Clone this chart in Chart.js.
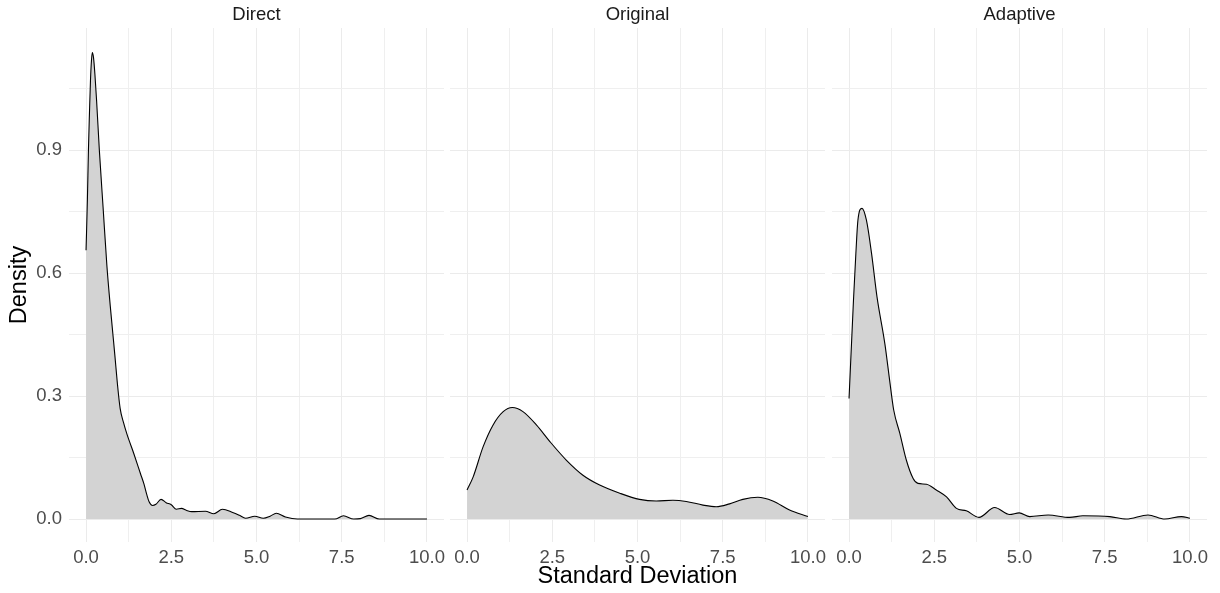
<!DOCTYPE html>
<html>
<head>
<meta charset="utf-8">
<script src="https://cdn.jsdelivr.net/npm/chart.js@4/dist/chart.umd.min.js"></script>
<style>
body { margin: 0; background: #fff; }
#chartSet { position: relative; width: 1220px; height: 593px; }
#chartSet canvas { position: absolute; top: 0; }
</style>
</head>
<body>
<div id="chartSet"></div>
<script>
const panelNames = ["Direct", "Original", "Adaptive"];

const xTicks = [0, 2.5, 5, 7.5, 10];
const xLabels = ["0.0", "2.5", "5.0", "7.5", "10.0"];
const xMinor = [1.25, 3.75, 6.25, 8.75];
const yTicks = [0, 0.3, 0.6, 0.9];
const yLabels = ["0.0", "0.3", "0.6", "0.9"];
const yMinor = [0.15, 0.45, 0.75, 1.05];

// density curves
const directX = [0, 0.04, 0.07, 0.1, 0.13, 0.16, 0.185, 0.22, 0.26, 0.31, 0.39, 0.5, 0.61, 0.71, 0.8, 0.85, 0.92, 1.0, 1.1, 1.2, 1.4, 1.6, 1.7, 1.78, 1.85, 1.95, 2.05, 2.2, 2.35, 2.5, 2.65, 2.8, 2.95, 3.1, 3.5, 3.75, 4.0, 4.3, 4.5, 4.68, 4.95, 5.2, 5.4, 5.58, 5.85, 6.2, 7.3, 7.55, 7.85, 8.05, 8.3, 8.6, 10];
const directY = [0.656, 0.78, 0.9, 0.99, 1.07, 1.12, 1.138, 1.125, 1.085, 1.02, 0.9, 0.76, 0.62, 0.52, 0.44, 0.395, 0.33, 0.27, 0.235, 0.207, 0.16, 0.11, 0.085, 0.06, 0.042, 0.033, 0.036, 0.048, 0.04, 0.035, 0.024, 0.026, 0.021, 0.018, 0.019, 0.013, 0.024, 0.016, 0.009, 0.002, 0.007, 0.002, 0.007, 0.014, 0.005, 0, 0, 0.008, 0, 0.001, 0.009, 0, 0];

const originalX = [0, 0.18, 0.47, 0.76, 1.06, 1.33, 1.64, 2.04, 2.43, 2.91, 3.4, 3.89, 4.48, 5.06, 5.55, 6.04, 6.43, 6.92, 7.31, 7.7, 8.09, 8.53, 8.97, 9.46, 10];
const originalY = [0.071, 0.103, 0.176, 0.229, 0.262, 0.272, 0.262, 0.229, 0.189, 0.144, 0.107, 0.083, 0.063, 0.048, 0.044, 0.046, 0.043, 0.034, 0.030, 0.037, 0.048, 0.053, 0.044, 0.022, 0.006];

const adaptiveX = [0, 0.13, 0.2, 0.26, 0.38, 0.51, 0.66, 0.82, 1.05, 1.19, 1.31, 1.49, 1.68, 1.88, 2.02, 2.27, 2.56, 2.86, 3.15, 3.44, 3.81, 4.27, 4.71, 4.99, 5.3, 5.84, 6.47, 6.86, 7.65, 8.13, 8.77, 9.26, 9.75, 10];
const adaptiveY = [0.294, 0.534, 0.648, 0.729, 0.758, 0.729, 0.648, 0.542, 0.428, 0.339, 0.266, 0.209, 0.144, 0.099, 0.087, 0.085, 0.071, 0.054, 0.026, 0.020, 0.004, 0.028, 0.011, 0.015, 0.006, 0.010, 0.004, 0.008, 0.006, 0, 0.010, 0, 0.006, 0.002];

const fam = "'Liberation Sans', Arial, Helvetica, sans-serif";

function gridOpts(major) {
    return {
        drawTicks: false,
        color: ctx => major.includes(ctx.tick.value) ? '#ebebeb' : '#efefef',
        lineWidth: 1
    };
}

function makeChart(idx, xs, ys, left, width, padL, padR) {
    const ct = document.createElement("canvas");
    ct.width = width;
    ct.height = 593;
    ct.style.left = left + "px";
    document.getElementById("chartSet").appendChild(ct);

    new Chart(ct, {
    type: 'line',
    data: {
        datasets: [{
        data: xs.map((x, k) => ({ x: x, y: ys[k] })),
        borderColor: '#000',
        borderWidth: 1.1,
        backgroundColor: '#d3d3d3',
        fill: 'origin',
        pointRadius: 0,
        cubicInterpolationMode: 'monotone'
        }]
    },
    options: {
        responsive: false,
        animation: false,
        devicePixelRatio: 1,
        layout: { padding: { left: padL, right: padR, top: 0, bottom: 0 } },
        plugins: {
        legend: { display: false },
        tooltip: { enabled: false },
        title: {
            display: true,
            text: panelNames[idx],
            fullSize: false,
            color: '#1a1a1a',
            font: { family: fam, size: 18.5, weight: 'normal' },
            padding: { top: 4, bottom: 1.8 }
        }
        },
        scales: {
        x: {
            type: 'linear',
            min: -0.5,
            max: 10.5,
            afterBuildTicks: s => { s.ticks = xTicks.concat(xMinor).sort((a, b) => a - b).map(v => ({ value: v })); },
            afterFit: s => { s.height = 51; },
            grid: gridOpts(xTicks),
            border: { display: false },
            ticks: {
            autoSkip: false,
            maxRotation: 0,
            padding: 5,
            color: '#4d4d4d',
            font: { family: fam, size: 18.5 },
            callback: v => xTicks.includes(v) ? xLabels[xTicks.indexOf(v)] : ''
            },
            title: {
            display: idx === 1,
            text: 'Standard Deviation',
            color: '#000',
            font: { family: fam, size: 23.5 },
            padding: { top: 0, bottom: 2.5 }
            }
        },
        y: {
            min: -0.056,
            max: 1.198,
            afterBuildTicks: s => { s.ticks = yTicks.concat(yMinor).sort((a, b) => a - b).map(v => ({ value: v })); },
            afterFit: s => { s.width = idx === 0 ? 69 : 0; },
            grid: gridOpts(yTicks),
            border: { display: false },
            ticks: {
            display: idx === 0,
            padding: 7,
            color: '#4d4d4d',
            font: { family: fam, size: 18.5 },
            callback: v => yTicks.includes(v) ? yLabels[yTicks.indexOf(v)] : ''
            },
            title: {
            display: idx === 0,
            text: 'Density',
            color: '#000',
            font: { family: fam, size: 23.5 },
            padding: { top: 5, bottom: 0 }
            }
        }
        }
    }
    });
}

makeChart(0, directX, directY, 0, 465, 0, 21);
makeChart(1, originalX, originalY, 429, 417, 21, 21);
makeChart(2, adaptiveX, adaptiveY, 811, 409, 21, 13);
</script>
</body>
</html>
